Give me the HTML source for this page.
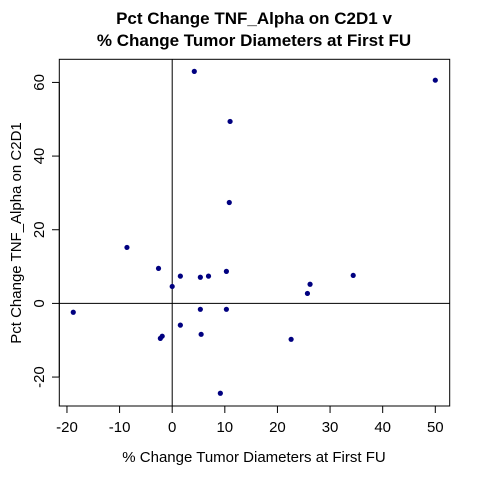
<!DOCTYPE html>
<html><head><meta charset="utf-8"><style>body{margin:0;background:#fff}svg{display:block}text{font-family:"Liberation Sans",Arial,sans-serif}</style></head>
<body>
<svg id="chart" width="480" height="480" viewBox="0 0 480 480" xmlns="http://www.w3.org/2000/svg">
<text x="254" y="24" text-anchor="middle" font-size="17" font-weight="bold">Pct Change TNF_Alpha on C2D1 v</text>
<text x="254" y="46" text-anchor="middle" font-size="17" font-weight="bold">% Change Tumor Diameters at First FU</text>
<rect x="59.3" y="59.3" width="390.4" height="346.7" fill="none" stroke="#000" stroke-width="1"/>
<g id="xt"></g>
<g id="yt"></g>
<g id="refs"></g>
<g id="pts"></g>
<text x="254" y="462" text-anchor="middle" font-size="15">% Change Tumor Diameters at First FU</text>
<text transform="translate(21,233) rotate(-90)" text-anchor="middle" font-size="15">Pct Change TNF_Alpha on C2D1</text>
</svg>
<script>
const xValues = [4.2, 50.0, 11.0, 10.85, -8.6, -2.6, 1.55, 5.35, 6.9, 10.3, 0.0, 34.4, 26.2, 25.7, -18.8, 5.35, 10.3, 1.55, 5.5, -2.25, -1.9, 22.6, 9.15];
const yValues = [63.0, 60.6, 49.4, 27.4, 15.2, 9.5, 7.4, 7.1, 7.4, 8.7, 4.6, 7.6, 5.2, 2.7, -2.4, -1.6, -1.6, -5.9, -8.4, -9.5, -8.9, -9.75, -24.4];
const xTicks = [-20, -10, 0, 10, 20, 30, 40, 50];
const yTicks = [-20, 0, 20, 40, 60];
const NS = "http://www.w3.org/2000/svg";
function sx(v){return 172.2 + v*5.262;}
function sy(v){return 303.4 - v*3.683;}
function mk(tag, attrs, parent){const e=document.createElementNS(NS,tag);for(const k in attrs)e.setAttribute(k,attrs[k]);parent.appendChild(e);return e;}
const xt=document.getElementById('xt'), yt=document.getElementById('yt'), refs=document.getElementById('refs'), pts=document.getElementById('pts');
mk('line',{x1:sx(xTicks[0]),x2:sx(xTicks[xTicks.length-1]),y1:406,y2:406,stroke:'#000'},xt);
xTicks.forEach(t=>{
  const l=mk('line',{x1:sx(t),x2:sx(t),y1:406,y2:413,stroke:'#000'},xt);
  
  
  const tx=mk('text',{x:sx(t),y:432,'text-anchor':'middle','font-size':15},xt);
  tx.textContent=t;
  
  
});
mk('line',{x1:59.3,x2:59.3,y1:sy(yTicks[0]),y2:sy(yTicks[yTicks.length-1]),stroke:'#000'},yt);
yTicks.forEach(t=>{
  const l=mk('line',{x1:52,x2:59.3,y1:sy(t),y2:sy(t),stroke:'#000'},yt);
  
  
  const tx=mk('text',{transform:`translate(44,${sy(t)}) rotate(-90)`,'text-anchor':'middle','font-size':15},yt);
  tx.textContent=t;
  
  
});
const vl=mk('line',{x1:sx(0),x2:sx(0),y1:59.3,y2:406,stroke:'#000'},refs);


const hl=mk('line',{x1:59.3,x2:449.7,y1:sy(0),y2:sy(0),stroke:'#000'},refs);


xValues.forEach((x,i)=>{
  const c=mk('circle',{cx:sx(x),cy:sy(yValues[i]),r:2.6,fill:'#000080'},pts);
  
  
});
</script>
</body></html>
